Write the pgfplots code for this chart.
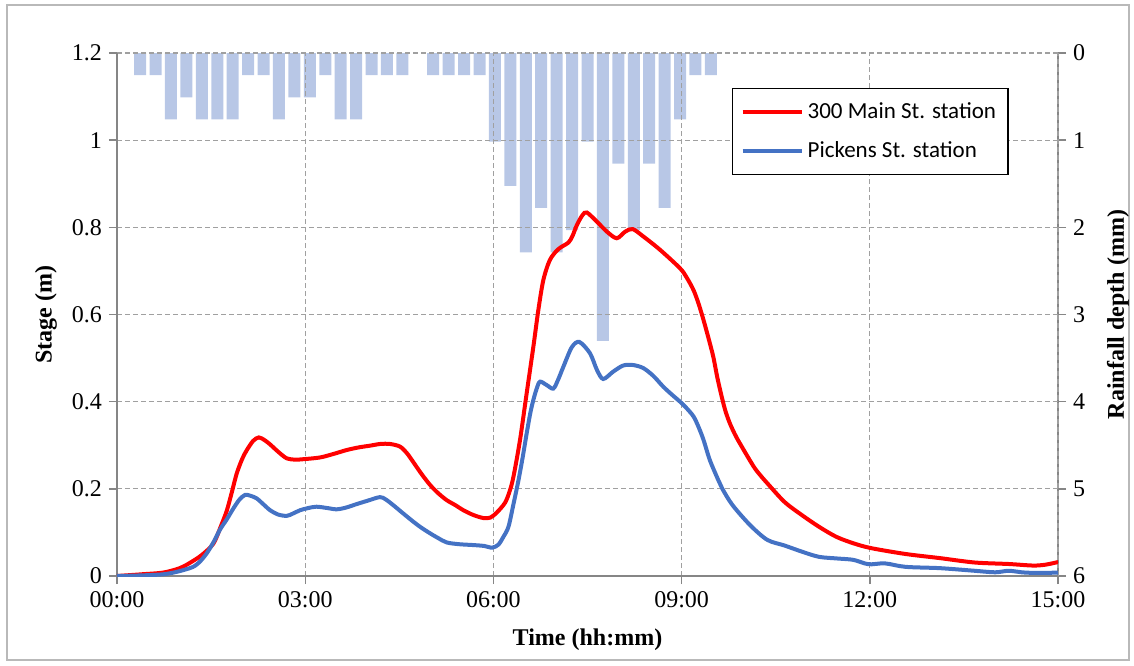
\documentclass[border=0pt]{standalone}
\usepackage{fontspec}
\setmainfont{Liberation Serif}
\newfontfamily\carlito{Carlito}
\usepackage{pgfplots}
\pgfplotsset{compat=1.18}
\definecolor{redline}{RGB}{255,0,0}
\definecolor{blueline}{RGB}{68,114,196}
\definecolor{barfill}{RGB}{184,199,230}
\definecolor{gridgray}{RGB}{160,160,160}
\definecolor{axisgray}{RGB}{134,134,134}
\begin{document}
\begin{tikzpicture}
\useasboundingbox (-58.5pt,-44.5pt) rectangle (508.5pt,288pt);
\draw[gray!55, line width=0.7pt] (-55pt,-42pt) rectangle (506pt,285.5pt);
% rainfall bars (secondary, reversed axis)
\begin{axis}[
  scale only axis, width=470.5pt, height=261.5pt,
  xmin=-0.5, xmax=60.5, hide x axis,
  ymin=0, ymax=6, y dir=reverse,
  axis y line*=right,
  ytick={0,1,2,3,4,5,6},
  tick align=outside, major tick length=4pt,
  axis line style={axisgray, line width=0.7pt},
  tick style={axisgray, line width=0.7pt},
  tick label style={font=\fontsize{12}{14}\selectfont},
  /pgf/number format/assume math mode=true,
  ylabel={\textbf{Rainfall depth (mm)}},
  ylabel style={at={(rel axis cs:1.0638,0.5)}, anchor=center, font=\fontsize{12}{14}\selectfont},
  ybar, bar width=6pt,
]
\addplot[fill=barfill, draw=none] coordinates {
(1,0.254) (2,0.254) (3,0.762) (4,0.508) (5,0.762) (6,0.762) (7,0.762) (8,0.254) (9,0.254)
(10,0.762) (11,0.508) (12,0.508) (13,0.254) (14,0.762) (15,0.762) (16,0.254) (17,0.254) (18,0.254)
(20,0.254) (21,0.254) (22,0.254) (23,0.254) (24,1.016) (25,1.524) (26,2.286) (27,1.778) (28,2.286)
(29,2.032) (30,1.016) (31,3.302) (32,1.27) (33,2.032) (34,1.27) (35,1.778) (36,0.762) (37,0.254) (38,0.254)
};
\end{axis}
% stage lines
\begin{axis}[
  scale only axis, width=470.5pt, height=261.5pt,
  xmin=0, xmax=15, ymin=0, ymax=1.2,
  axis x line*=bottom, axis y line*=left,
  xtick={0,3,6,9,12,15},
  xticklabels={00:00,03:00,06:00,09:00,12:00,15:00},
  ytick={0,0.2,0.4,0.6,0.8,1,1.2},
  grid=major,
  major grid style={gridgray, dash pattern=on 2.5pt off 1.5pt, line width=0.6pt},
  tick align=outside, major tick length=4pt,
  axis line style={axisgray, line width=0.7pt},
  tick style={axisgray, line width=0.7pt},
  tick label style={font=\fontsize{12}{14}\selectfont},
  /pgf/number format/assume math mode=true,
  xlabel={\textbf{Time (hh:mm)}},
  xlabel style={at={(rel axis cs:0.5,-0.1224)}, anchor=center, font=\fontsize{12}{14}\selectfont},
  ylabel={\textbf{Stage (m)}},
  ylabel style={at={(rel axis cs:-0.0755,0.5)}, anchor=center, font=\fontsize{12}{14}\selectfont},
  legend style={at={(0.6536,0.933)}, anchor=north west, draw=black, line width=0.6pt,
    font=\fontsize{11.5}{13}\selectfont\carlito, inner xsep=4pt, inner ysep=5pt,
    row sep=6pt, cells={anchor=west}},
  legend image code/.code={\path (0pt,0pt) -- (13pt,0pt); \draw[#1] (13pt,0pt) -- (29.5pt,0pt);},
]
\addplot[redline, line width=2pt, smooth] coordinates {
(0,0) (0.4,0.004) (0.74,0.008) (1.0,0.018) (1.16,0.03) (1.35,0.048) (1.535,0.074) (1.65,0.112)
(1.75,0.15) (1.83,0.192) (1.91,0.236) (2.0,0.27) (2.07,0.289) (2.17,0.31) (2.26,0.318) (2.35,0.312)
(2.44,0.302) (2.57,0.285) (2.705,0.27) (2.84,0.267) (2.97,0.268) (3.236,0.272) (3.45,0.28) (3.66,0.289)
(3.85,0.295) (4.03,0.299) (4.2,0.303) (4.35,0.303) (4.51,0.297) (4.62,0.282) (4.72,0.262) (4.85,0.235)
(4.99,0.209) (5.12,0.19) (5.256,0.174) (5.4,0.162) (5.52,0.151) (5.68,0.14) (5.84,0.133) (5.95,0.134)
(6.05,0.145) (6.185,0.168) (6.26,0.195) (6.32,0.228) (6.424,0.312) (6.53,0.419) (6.637,0.526)
(6.716,0.61) (6.796,0.679) (6.90,0.725) (7.035,0.75) (7.195,0.765) (7.26,0.78) (7.33,0.805)
(7.42,0.828) (7.49,0.834) (7.65,0.813) (7.81,0.79) (7.966,0.775) (8.1,0.79) (8.22,0.796) (8.39,0.779)
(8.66,0.748) (8.975,0.706) (9.08,0.685) (9.19,0.656) (9.27,0.625) (9.35,0.587) (9.43,0.545)
(9.505,0.503) (9.57,0.455) (9.64,0.411) (9.70,0.378) (9.77,0.35) (9.85,0.325) (9.93,0.304)
(10.145,0.252) (10.25,0.232) (10.365,0.213) (10.64,0.17) (10.915,0.14) (11.19,0.113) (11.465,0.09)
(11.74,0.075) (12.02,0.064) (12.57,0.0505) (13.12,0.041) (13.67,0.031) (14.22,0.0275) (14.6,0.024)
(14.8,0.026) (15.0,0.032)
};
\addlegendentry{300 Main St. station}
\addplot[blueline, line width=2pt, smooth] coordinates {
(0,0) (0.74,0.004) (1.16,0.018) (1.3,0.03) (1.43,0.052) (1.54,0.078) (1.64,0.106) (1.75,0.13)
(1.855,0.155) (1.95,0.175) (2.04,0.186) (2.13,0.184) (2.227,0.178) (2.33,0.165) (2.44,0.151)
(2.57,0.141) (2.705,0.138) (2.8,0.143) (2.92,0.151) (3.05,0.156) (3.18,0.159) (3.35,0.156) (3.50,0.153)
(3.65,0.157) (3.82,0.165) (4.0,0.173) (4.19,0.181) (4.28,0.176) (4.40,0.163) (4.55,0.145) (4.72,0.125)
(4.85,0.111) (4.99,0.098) (5.12,0.087) (5.256,0.077) (5.45,0.073) (5.68,0.071) (5.85,0.069) (5.98,0.065)
(6.08,0.072) (6.16,0.09) (6.24,0.113) (6.32,0.165) (6.4,0.22) (6.47,0.275) (6.53,0.327) (6.59,0.375)
(6.637,0.404) (6.69,0.43) (6.743,0.446) (6.85,0.438) (6.955,0.43) (7.03,0.45) (7.115,0.48) (7.25,0.525)
(7.37,0.537) (7.54,0.511) (7.65,0.473) (7.75,0.452) (7.91,0.469) (8.07,0.483) (8.23,0.484) (8.39,0.477)
(8.55,0.459) (8.71,0.434) (8.87,0.413) (8.975,0.4) (9.08,0.385) (9.19,0.366) (9.27,0.342) (9.35,0.312)
(9.45,0.266) (9.585,0.22) (9.65,0.2) (9.81,0.163)
(10.09,0.117) (10.365,0.083) (10.64,0.07) (10.915,0.056) (11.19,0.044) (11.5,0.04) (11.74,0.037)
(11.98,0.027) (12.24,0.029) (12.57,0.021) (13.12,0.018) (13.67,0.012) (14.0,0.0085) (14.22,0.012)
(14.5,0.0076) (15.0,0.0076)
};
\addlegendentry{Pickens St. station}
\end{axis}
\end{tikzpicture}
\end{document}
